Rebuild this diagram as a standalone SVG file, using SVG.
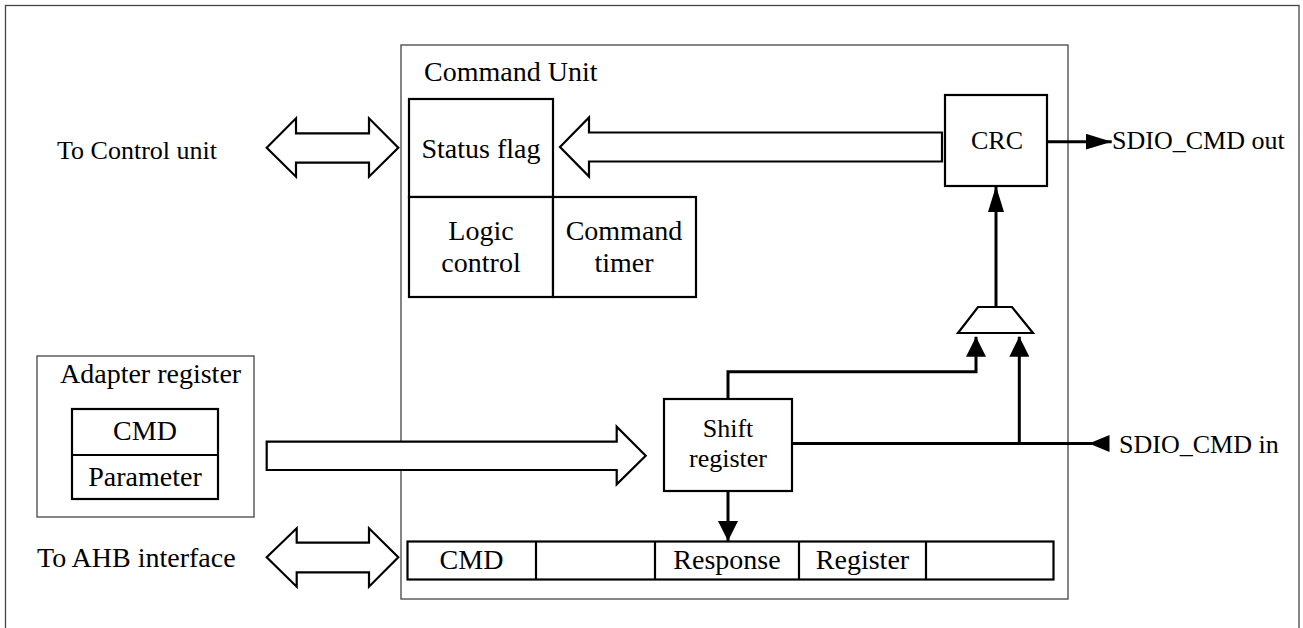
<svg xmlns="http://www.w3.org/2000/svg" width="1303" height="628" viewBox="0 0 1303 628">
<style>
text{font-family:"Liberation Serif","Times New Roman",serif;font-size:28px;fill:#000}
.c{text-anchor:middle}
.s26{font-size:26px}
.frame{fill:none;stroke:#444;stroke-width:1.3}
.box{fill:#fff;stroke:#000;stroke-width:2.2}
.bus{fill:#fff;stroke:#000;stroke-width:2.2;stroke-linejoin:miter}
.wire{fill:none;stroke:#000;stroke-width:3}
</style>
<defs>
<marker id="arrA" markerUnits="userSpaceOnUse" markerWidth="26" markerHeight="16" refX="26" refY="8" orient="auto"><path d="M0,0 L26,8 L0,16 z" fill="#000"/></marker>
<marker id="arrB" markerUnits="userSpaceOnUse" markerWidth="20" markerHeight="20" refX="20" refY="10" orient="auto"><path d="M0,0 L20,10 L0,20 z" fill="#000"/></marker>
</defs>
<rect width="1303" height="628" fill="#fff"/>
<rect class="frame" x="5.5" y="5.5" width="1293.5" height="640"/>

<g id="command-unit">
<rect class="frame" x="401" y="45" width="667" height="554"/>
<text x="424" y="81">Command Unit</text>
</g>

<g id="to-control-unit"><text class="s26" x="57" y="159">To Control unit</text></g>
<g id="to-ahb-interface"><text x="37" y="567">To AHB interface</text></g>

<g id="status-flag">
<rect class="box" x="409" y="99" width="144" height="98"/>
<text class="c" x="481" y="158">Status flag</text>
</g>
<g id="logic-control">
<rect class="box" x="409" y="197" width="144" height="100"/>
<text class="c" x="481" y="240">Logic</text>
<text class="c" x="481" y="272">control</text>
</g>
<g id="command-timer">
<rect class="box" x="553" y="197" width="143" height="100"/>
<text class="c" x="624" y="240">Command</text>
<text class="c" x="624" y="272">timer</text>
</g>
<g id="crc">
<rect class="box" x="945" y="95" width="102" height="91"/>
<text class="c s26" x="997" y="149">CRC</text>
</g>
<g id="mux">
<polygon class="box" points="978,307 1012,307 1033,333 958,333"/>
</g>
<g id="adapter-register">
<rect class="frame" x="37" y="356" width="217" height="161"/>
<text x="60" y="383">Adapter register</text>
<rect class="box" x="72" y="409" width="146" height="90"/>
<line x1="72" y1="455" x2="218" y2="455" stroke="#000" stroke-width="2.2"/>
<text class="c" x="145" y="440">CMD</text>
<text class="c" x="145" y="486">Parameter</text>
</g>
<g id="shift-register">
<rect class="box" x="664" y="399" width="128" height="92"/>
<text class="c s26" x="728" y="437">Shift</text>
<text class="c s26" x="728" y="467">register</text>
</g>
<g id="response-register">
<rect class="box" x="407.5" y="541.5" width="646" height="38"/>
<line x1="536" y1="541.5" x2="536" y2="579.5" stroke="#000" stroke-width="2.2"/>
<line x1="655" y1="541.5" x2="655" y2="579.5" stroke="#000" stroke-width="2.2"/>
<line x1="799" y1="541.5" x2="799" y2="579.5" stroke="#000" stroke-width="2.2"/>
<line x1="926" y1="541.5" x2="926" y2="579.5" stroke="#000" stroke-width="2.2"/>
<text class="c" x="471.5" y="569">CMD</text>
<text class="c" x="727" y="569">Response</text>
<text class="c" x="862.5" y="569">Register</text>
</g>
<g id="sdio-out-label"><text class="s26" x="1112" y="149">SDIO_CMD out</text></g>
<g id="sdio-in-label"><text class="s26" x="1119" y="453">SDIO_CMD in</text></g>

<g id="connectors">
<polygon class="bus" points="266.7,147.7 296,118.3 296,133.3 369,133.3 369,118.3 398.3,147.7 369,176.7 369,162.7 296,162.7 296,176.7"/>
<polygon class="bus" points="266.7,557.3 296.7,528.3 296.7,542.7 369,542.7 369,528.3 398.3,557.3 369,586.7 369,572.3 296.7,572.3 296.7,586.7"/>
<polygon class="bus" points="560,147 589,117.5 589,132.5 942,132.5 942,161.5 589,161.5 589,176.5"/>
<polygon class="bus" points="266.7,441.7 616.7,441.7 616.7,426.7 645.7,455.7 616.7,484.3 616.7,470 266.7,470"/>
<line class="wire" x1="1047" y1="141.7" x2="1111.7" y2="141.7" marker-end="url(#arrA)"/>
<line class="wire" x1="996" y1="307" x2="996" y2="186" marker-end="url(#arrA)"/>
<path class="wire" d="M728,399 V371.7 H976 V336.7" marker-end="url(#arrB)"/>
<line class="wire" x1="1019.3" y1="443.5" x2="1019.3" y2="336.7" marker-end="url(#arrB)"/>
<line class="wire" x1="792" y1="443.5" x2="1092" y2="443.5"/>
<polygon points="1089,443.5 1109.5,435 1109.5,452" fill="#000"/>
<line class="wire" x1="728" y1="491" x2="728" y2="541" marker-end="url(#arrB)"/>
</g>
</svg>
